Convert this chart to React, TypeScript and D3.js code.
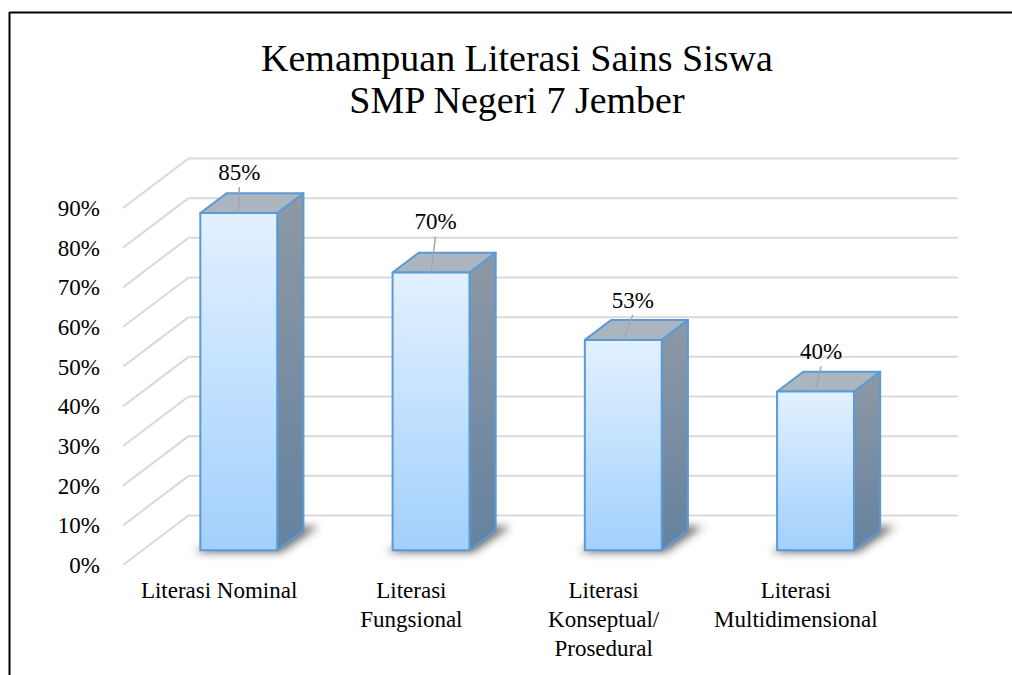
import React from "react";
import * as d3 from "d3";

const categories: string[][] = [
  ["Literasi Nominal"],
  ["Literasi", "Fungsional"],
  ["Literasi", "Konseptual/", "Prosedural"],
  ["Literasi", "Multidimensional"],
];
const values: number[] = [0.85, 0.7, 0.53, 0.4];
const yTicks: number[] = [0, 0.1, 0.2, 0.3, 0.4, 0.5, 0.6, 0.7, 0.8, 0.9];
const titleLines: string[] = ["Kemampuan Literasi Sains Siswa", "SMP Negeri 7 Jember"];

// layout constants (not data)
const W = 1012;
const H = 675;
const DX = 65.5;
const DY = -49.5;
const FONT = "Liberation Serif, Times New Roman, serif";
const TS: React.CSSProperties = { fontFamily: FONT };
const labelLift = [33, 43, 32, 32];
const labelShift = [0.5, 4.5, 9.5, 5.5];

export default function App() {
  const keys = categories.map((c) => c.join(" "));
  const x = d3.scaleBand<string>().domain(keys).range([123, 892]).padding(0);
  const y = d3.scaleLinear().domain([0, 0.9]).range([565, 208]);
  const step = x.step();
  const barW = step * 0.4;
  const t0 = 0.3;
  const t1 = 0.7;
  const P = (px: number, py: number, t: number): [number, number] => [px + t * DX, py + t * DY];
  const pts = (arr: [number, number][]) => arr.map((p) => p.join(",")).join(" ");
  const fmt = d3.format(".0%");

  return (
    <svg
      width={W}
      height={H}
      style={{ position: "absolute", left: 0, top: 0, display: "block", background: "#fff", fontFamily: FONT }}
    >
      <defs>
        <linearGradient id="front" x1="0" y1="0" x2="0" y2="1">
          <stop offset="0%" stopColor="#e2f1ff" />
          <stop offset="100%" stopColor="#a2d0fc" />
        </linearGradient>
        <linearGradient id="side" x1="0" y1="0" x2="0" y2="1">
          <stop offset="0%" stopColor="#8e99a5" />
          <stop offset="100%" stopColor="#64829f" />
        </linearGradient>
        <filter id="blur" x="-50%" y="-50%" width="200%" height="200%">
          <feGaussianBlur stdDeviation="4" />
        </filter>
      </defs>
      <rect x={0} y={0} width={W} height={H} fill="#fff" />
      <line x1={9.5} y1={12.5} x2={W} y2={12.5} stroke="#000" strokeWidth={2} />
      <line x1={9.5} y1={12} x2={9.5} y2={H} stroke="#000" strokeWidth={2} />

      {titleLines.map((t, i) => (
        <text key={t} x={517} y={71 + i * 42} textAnchor="middle" fontSize={38} fill="#000" style={TS}>
          {t}
        </text>
      ))}

      {/* gridlines: left wall and back wall */}
      {yTicks.map((v) => {
        const [bx, by] = P(123, y(v), 1);
        return (
          <g key={v}>
            <line x1={123} y1={y(v)} x2={bx} y2={by} stroke="#d9d9d9" strokeWidth={2} />
            <line x1={bx} y1={by} x2={958} y2={by} stroke="#d9d9d9" strokeWidth={2} />
            <text x={100} y={y(v) + 8} textAnchor="end" fontSize={23} fill="#000" style={TS}>
              {fmt(v)}
            </text>
          </g>
        );
      })}

      {/* shadows */}
      {values.map((v, i) => {
        const xl = (x(keys[i]) as number) + step / 2 - barW / 2;
        const xr = xl + barW;
        const yb = y(0);
        const poly: [number, number][] = [
          P(xl - 6, yb + 2, t0),
          P(xr + 4, yb + 2, t0),
          P(xr + 10, yb, t1 + 0.08),
          P(xl + 8, yb, t1 + 0.08),
        ];
        return <polygon key={"s" + i} points={pts(poly)} fill="#3a3a3a" opacity={0.75} filter="url(#blur)" />;
      })}

      {/* bars */}
      {values.map((v, i) => {
        const xl = (x(keys[i]) as number) + step / 2 - barW / 2;
        const xr = xl + barW;
        const yb = y(0);
        const yt = y(v);
        const front: [number, number][] = [P(xl, yt, t0), P(xr, yt, t0), P(xr, yb, t0), P(xl, yb, t0)];
        const side: [number, number][] = [P(xr, yt, t0), P(xr, yt, t1), P(xr, yb, t1), P(xr, yb, t0)];
        const top: [number, number][] = [P(xl, yt, t0), P(xl, yt, t1), P(xr, yt, t1), P(xr, yt, t0)];
        const [fxl, fyt] = P(xl, yt, t0);
        const cx = fxl + barW / 2;
        const lx = cx + labelShift[i];
        const ly = fyt - labelLift[i];
        return (
          <g key={"b" + i}>
            <polygon points={pts(side)} fill="url(#side)" stroke="#5b9bd5" strokeWidth={2} strokeLinejoin="round" />
            <polygon points={pts(top)} fill="#abb5bf" stroke="#5b9bd5" strokeWidth={2} strokeLinejoin="round" />
            <polygon points={pts(front)} fill="url(#front)" stroke="#5b9bd5" strokeWidth={2} strokeLinejoin="round" />
            <line x1={lx} y1={ly + 7} x2={cx} y2={fyt} stroke="#a6a6a6" strokeWidth={1.5} />
            <text x={lx} y={ly} textAnchor="middle" fontSize={23} fill="#000" style={TS}>
              {fmt(v)}
            </text>
          </g>
        );
      })}

      {/* category labels */}
      {categories.map((lines, i) => {
        const cx = (x(keys[i]) as number) + step / 2;
        return (
          <text key={"c" + i} textAnchor="middle" fontSize={23} fill="#000" style={TS}>
            {lines.map((l, j) => (
              <tspan key={j} x={cx} y={598 + j * 29}>
                {l}
              </tspan>
            ))}
          </text>
        );
      })}
    </svg>
  );
}
